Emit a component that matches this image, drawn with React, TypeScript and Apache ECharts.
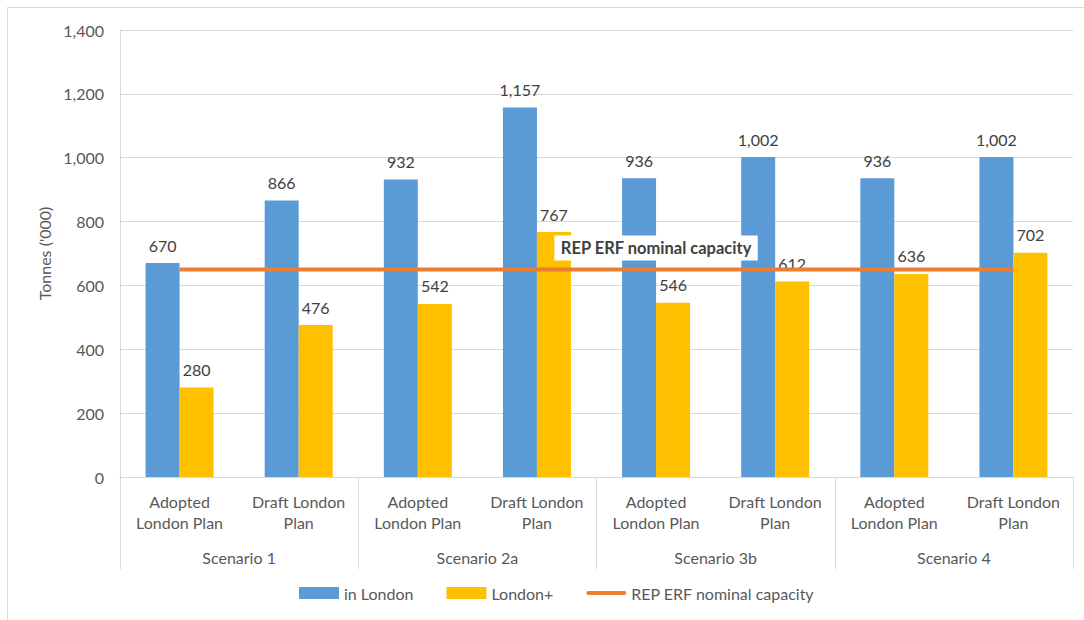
import React, { useEffect, useRef } from "react";
import * as echarts from "echarts";

const categories = [
  "Adopted\nLondon Plan",
  "Draft London\nPlan",
  "Adopted\nLondon Plan",
  "Draft London\nPlan",
  "Adopted\nLondon Plan",
  "Draft London\nPlan",
  "Adopted\nLondon Plan",
  "Draft London\nPlan",
];
const groups = ["Scenario 1", "Scenario 2a", "Scenario 3b", "Scenario 4"];
const inLondon = [670, 866, 932, 1157, 936, 1002, 936, 1002];
const londonPlus = [280, 476, 542, 767, 546, 612, 636, 702];
const capacity = [650, 650, 650, 650, 650, 650, 650, 650];
const capacityLabelIndex = 4;
const yTicks = { min: 0, max: 1400, interval: 200 };

const FONT = "Lato, 'Open Sans', sans-serif";
const FS = 16;

export default function App() {
  const ref = useRef<HTMLDivElement>(null);
  useEffect(() => {
    if (!ref.current) return;
    const chart = echarts.init(ref.current, null, { renderer: "svg" });
    const fmt = (v: number) => v.toLocaleString("en-US");
    chart.setOption({
      animation: false,
      textStyle: { fontFamily: FONT },
      graphic: [
        {
          type: "rect",
          shape: { x: 7.5, y: 7.5, width: 1200, height: 800 },
          style: { fill: "none", stroke: "#d9d9d9", lineWidth: 1 },
          silent: true,
        },
      ],
      grid: { left: 120, right: 11, top: 30, bottom: 143 },
      legend: {
        bottom: 14,
        left: 294,
        itemWidth: 40,
        itemHeight: 12,
        itemGap: 33,
        textStyle: { fontSize: FS, color: "#595959", fontFamily: FONT },
        data: [
          { name: "in London", icon: "rect" },
          { name: "London+", icon: "rect" },
          {
            name: "REP ERF nominal capacity",
            icon: "path://M2,0 L38,0 A2,2 0 0 1 38,4 L2,4 A2,2 0 0 1 2,0 Z",
          },
        ],
      },
      xAxis: [
        {
          type: "category",
          data: categories,
          position: "bottom",
          axisLine: { show: true, lineStyle: { color: "#d9d9d9" } },
          axisTick: { show: false },
          axisLabel: {
            interval: 0,
            margin: 14,
            fontSize: FS,
            lineHeight: 21,
            color: "#595959",
            fontFamily: FONT,
          },
        },
        {
          type: "category",
          data: groups,
          position: "bottom",
          axisLine: { show: false },
          axisTick: {
            show: true,
            interval: 0,
            length: 92,
            lineStyle: { color: "#d9d9d9" },
          },
          axisLabel: {
            interval: 0,
            margin: 72,
            fontSize: FS,
            color: "#595959",
            fontFamily: FONT,
          },
        },
      ],
      yAxis: {
        type: "value",
        min: yTicks.min,
        max: yTicks.max,
        interval: yTicks.interval,
        name: "Tonnes ('000)",
        nameLocation: "middle",
        nameGap: 68,
        nameTextStyle: { fontSize: FS, color: "#595959", fontFamily: FONT },
        axisLine: { show: true, lineStyle: { color: "#d9d9d9" } },
        axisTick: { show: false },
        axisLabel: {
          margin: 16,
          fontSize: FS,
          color: "#595959",
          fontFamily: FONT,
          formatter: (v: number) => fmt(v),
        },
        splitLine: { lineStyle: { color: "#d9d9d9" } },
      },
      series: [
        {
          name: "in London",
          type: "bar",
          data: inLondon,
          barWidth: 34,
          barGap: "0%",
          itemStyle: { color: "#5B9BD5" },
          label: {
            show: true,
            position: "top",
            distance: 10,
            fontSize: FS,
            color: "#404040",
            fontFamily: FONT,
            formatter: (p: any) => fmt(p.value),
          },
        },
        {
          name: "London+",
          type: "bar",
          data: londonPlus,
          barWidth: 34,
          barGap: "0%",
          itemStyle: { color: "#FFC000" },
          label: {
            show: true,
            position: "top",
            distance: 10,
            fontSize: FS,
            color: "#404040",
            fontFamily: FONT,
            formatter: (p: any) => fmt(p.value),
          },
        },
        {
          name: "REP ERF nominal capacity",
          type: "line",
          data: capacity,
          symbol: "none",
          z: 5,
          lineStyle: { color: "#ED7D31", width: 4 },
          itemStyle: { color: "#ED7D31" },
          markPoint: {
            symbol: "circle",
            symbolSize: 0,
            silent: true,
            data: [
              {
                coord: [capacityLabelIndex, capacity[capacityLabelIndex]],
                label: {
                  show: true,
                  position: "top",
                  distance: 9,
                  formatter: "REP ERF nominal capacity",
                  fontSize: 16.5,
                  fontWeight: "bold",
                  color: "#404040",
                  backgroundColor: "#ffffff",
                  padding: [4, 6],
                  fontFamily: FONT,
                },
              },
            ],
          },
        },
      ],
    });
    return () => chart.dispose();
  }, []);
  return (
    <div
      ref={ref}
      style={{ position: "absolute", left: 0, top: 0, width: 1084, height: 620 }}
    />
  );
}
